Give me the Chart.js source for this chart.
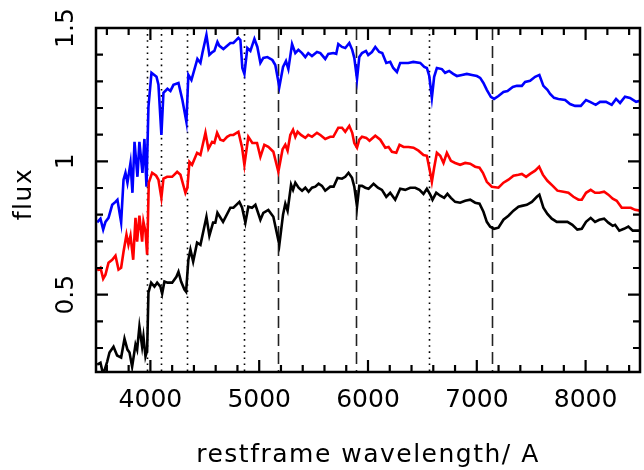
<!DOCTYPE html>
<html>
<head>
<meta charset="utf-8">
<script src="https://cdn.jsdelivr.net/npm/chart.js@4"></script>
<style>
  body { margin: 0; background: #fff; }
  #wrap { width: 644px; height: 470px; }
</style>
</head>
<body>
<div id="wrap"><canvas id="spec" width="644" height="470"></canvas></div>
<script>
// spectra (restframe wavelength in A, flux)
const blueWave = [3511,3541,3566,3587,3615,3649,3679,3697,3731,3753,3771,3789,3817,3835,3854,3881,3899,3927,3945,3964,3982,4010,4056,4074,4101,4120,4157,4184,4212,4258,4294,4331,4349,4377,4432,4460,4478,4515,4542,4570,4588,4616,4634,4671,4735,4763,4809,4827,4845,4864,4891,4919,4956,4983,5011,5038,5075,5121,5148,5185,5219,5246,5268,5302,5332,5360,5394,5424,5451,5485,5531,5562,5607,5635,5681,5708,5727,5761,5791,5828,5855,5874,5899,5920,5945,5981,6002,6036,6067,6103,6131,6168,6204,6232,6266,6296,6342,6370,6416,6480,6517,6541,6563,6587,6608,6633,6679,6709,6746,6783,6817,6863,6909,6955,7001,7031,7061,7092,7129,7159,7199,7245,7282,7331,7368,7414,7444,7490,7536,7575,7612,7649,7674,7710,7750,7812,7857,7903,7956,8004,8041,8093,8133,8188,8240,8280,8317,8362,8408,8464,8500];
const blueFlux = [0.771,0.785,0.744,0.773,0.788,0.837,0.848,0.856,0.771,0.931,0.957,0.920,0.994,0.882,1.073,0.942,1.073,0.957,1.084,0.905,1.204,1.332,1.317,1.287,1.099,1.257,1.272,1.264,1.287,1.294,1.230,1.148,1.324,1.305,1.384,1.369,1.406,1.474,1.399,1.410,1.414,1.448,1.433,1.421,1.444,1.444,1.463,1.455,1.350,1.328,1.425,1.414,1.459,1.429,1.369,1.388,1.391,1.380,1.361,1.279,1.354,1.376,1.346,1.440,1.406,1.418,1.406,1.391,1.406,1.395,1.410,1.406,1.384,1.403,1.406,1.403,1.440,1.429,1.425,1.444,1.418,1.388,1.309,1.391,1.406,1.414,1.399,1.410,1.429,1.410,1.406,1.369,1.373,1.350,1.335,1.369,1.369,1.369,1.373,1.369,1.354,1.350,1.320,1.238,1.317,1.350,1.346,1.332,1.339,1.328,1.320,1.324,1.328,1.324,1.320,1.313,1.294,1.268,1.242,1.234,1.245,1.260,1.264,1.279,1.283,1.283,1.298,1.302,1.317,1.324,1.283,1.268,1.253,1.238,1.234,1.230,1.215,1.208,1.208,1.230,1.223,1.212,1.223,1.223,1.212,1.234,1.219,1.242,1.238,1.223,1.227];

const redWave = [3511,3541,3566,3587,3615,3649,3679,3707,3731,3753,3780,3798,3817,3842,3863,3878,3899,3924,3936,3955,3970,3985,4016,4053,4074,4101,4120,4154,4200,4246,4276,4322,4340,4359,4383,4429,4460,4506,4533,4567,4588,4613,4643,4671,4705,4735,4763,4809,4843,4864,4900,4937,4980,5011,5047,5084,5130,5176,5215,5240,5261,5286,5311,5332,5353,5384,5424,5451,5485,5531,5562,5607,5653,5681,5727,5761,5791,5828,5855,5874,5899,5920,5945,5984,6014,6067,6113,6159,6189,6220,6260,6290,6327,6372,6418,6464,6510,6541,6572,6587,6608,6633,6664,6694,6725,6762,6801,6847,6893,6939,6985,7025,7056,7092,7138,7199,7245,7291,7337,7383,7414,7453,7490,7536,7573,7607,7649,7698,7741,7796,7842,7888,7934,7965,8004,8047,8087,8126,8170,8209,8249,8286,8332,8371,8415,8454,8500];
const redFlux = [0.591,0.601,0.560,0.575,0.620,0.631,0.646,0.594,0.601,0.661,0.725,0.687,0.721,0.631,0.788,0.699,0.796,0.699,0.773,0.736,0.650,0.920,0.957,0.946,0.931,0.863,0.935,0.942,0.942,0.961,0.950,0.882,0.901,0.998,0.987,1.032,1.024,1.107,1.047,1.073,1.069,1.107,1.081,1.077,1.092,1.099,1.099,1.111,1.051,0.987,1.092,1.069,1.069,1.017,1.062,1.054,1.036,0.961,1.045,1.062,1.040,1.099,1.118,1.092,1.111,1.099,1.088,1.099,1.092,1.107,1.099,1.084,1.092,1.092,1.126,1.126,1.111,1.133,1.107,1.069,1.051,1.081,1.092,1.088,1.077,1.096,1.081,1.051,1.054,1.036,1.032,1.062,1.054,1.054,1.051,1.040,1.024,1.021,0.957,0.923,0.976,1.032,1.021,0.994,1.032,1.002,0.994,0.987,0.994,0.991,0.980,0.976,0.957,0.923,0.905,0.901,0.920,0.931,0.946,0.950,0.953,0.942,0.953,0.965,0.980,0.950,0.927,0.908,0.890,0.886,0.882,0.867,0.856,0.856,0.882,0.893,0.882,0.882,0.886,0.875,0.860,0.852,0.826,0.826,0.826,0.818,0.815];

const blackWave = [3511,3541,3566,3603,3624,3661,3694,3731,3762,3789,3808,3832,3863,3878,3899,3924,3936,3955,3970,3982,4007,4037,4062,4092,4108,4129,4157,4200,4239,4258,4282,4313,4328,4349,4368,4393,4429,4460,4515,4542,4576,4597,4616,4668,4735,4763,4818,4843,4873,4900,4934,4965,5011,5038,5084,5130,5185,5219,5240,5261,5293,5311,5332,5362,5394,5424,5454,5485,5516,5546,5577,5607,5653,5684,5720,5761,5791,5821,5853,5874,5899,5920,5945,5975,6005,6051,6091,6128,6168,6204,6250,6296,6342,6388,6434,6473,6510,6541,6572,6593,6627,6664,6700,6730,6762,6801,6847,6893,6939,6985,7025,7061,7092,7123,7159,7199,7245,7291,7337,7383,7414,7460,7506,7552,7575,7612,7649,7689,7735,7781,7833,7878,7924,7965,8004,8047,8087,8126,8170,8209,8249,8271,8310,8353,8393,8433,8500];
const blackFlux = [0.238,0.245,0.200,0.249,0.283,0.305,0.272,0.264,0.335,0.294,0.283,0.230,0.313,0.294,0.380,0.305,0.343,0.268,0.290,0.508,0.545,0.530,0.545,0.530,0.504,0.549,0.545,0.545,0.567,0.586,0.549,0.519,0.511,0.631,0.669,0.624,0.695,0.687,0.792,0.721,0.770,0.770,0.807,0.773,0.826,0.826,0.848,0.826,0.770,0.830,0.826,0.837,0.781,0.807,0.818,0.792,0.687,0.800,0.841,0.815,0.912,0.893,0.920,0.901,0.890,0.901,0.886,0.901,0.905,0.916,0.908,0.890,0.905,0.905,0.938,0.935,0.942,0.957,0.938,0.905,0.830,0.908,0.908,0.901,0.897,0.916,0.901,0.893,0.867,0.882,0.856,0.897,0.893,0.901,0.901,0.893,0.878,0.897,0.875,0.856,0.882,0.871,0.863,0.878,0.863,0.848,0.845,0.852,0.856,0.845,0.841,0.811,0.773,0.755,0.747,0.751,0.781,0.796,0.815,0.830,0.833,0.837,0.848,0.867,0.875,0.826,0.803,0.785,0.773,0.773,0.773,0.762,0.744,0.747,0.773,0.788,0.773,0.781,0.785,0.770,0.758,0.762,0.740,0.747,0.755,0.740,0.740];

// marker lines (A)
const dottedLines = [3968, 4102, 4340, 4861, 6563];
const dashedLines = [5175, 5893, 7140];

// axes
const xMin = 3500, xMax = 8500;
const yMin = 0.21, yMax = 1.5;
const xTickLabels = [4000, 5000, 6000, 7000, 8000];
const yTickLabels = ["0.5", "1", "1.5"];

const FONT = "DejaVu Sans";

function toPoints(w, f) {
  return w.map((x, i) => ({ x: x, y: f[i] }));
}

const axesPlugin = {
  id: "axesPlugin",
  beforeDatasetsDraw(chart) {
    const { ctx, chartArea: a, scales: { x } } = chart;
    ctx.save();
    ctx.strokeStyle = "#000";
    ctx.lineWidth = 1.6;
    ctx.setLineDash([1.6, 4.5]);
    dottedLines.forEach(w => {
      const px = Math.round(x.getPixelForValue(w)) + 0.5;
      ctx.beginPath(); ctx.moveTo(px, a.top); ctx.lineTo(px, a.bottom); ctx.stroke();
    });
    ctx.strokeStyle = "#222";
    ctx.setLineDash([12, 6]);
    dashedLines.forEach(w => {
      const px = Math.round(x.getPixelForValue(w)) + 0.5;
      ctx.beginPath(); ctx.moveTo(px, a.top); ctx.lineTo(px, a.bottom); ctx.stroke();
    });
    ctx.restore();
  },
  afterDraw(chart) {
    const { ctx, chartArea: a, scales: { x, y } } = chart;
    ctx.save();
    ctx.strokeStyle = "#000";
    ctx.lineWidth = 2.5;
    ctx.strokeRect(a.left, a.top, a.right - a.left, a.bottom - a.top);

    // inward ticks on all four sides
    ctx.lineWidth = 2.2;
    for (let v = 3600; v <= 8400; v += 200) {
      const px = x.getPixelForValue(v);
      const len = v % 1000 === 0 ? 12 : 7;
      ctx.beginPath();
      ctx.moveTo(px, a.bottom); ctx.lineTo(px, a.bottom - len);
      ctx.moveTo(px, a.top); ctx.lineTo(px, a.top + len);
      ctx.stroke();
    }
    for (let k = 3; k <= 14; k++) {
      const py = y.getPixelForValue(k / 10);
      const len = k % 5 === 0 ? 12 : 7;
      ctx.beginPath();
      ctx.moveTo(a.left, py); ctx.lineTo(a.left + len, py);
      ctx.moveTo(a.right, py); ctx.lineTo(a.right - len, py);
      ctx.stroke();
    }

    ctx.fillStyle = "#000";
    ctx.font = "25px '" + FONT + "'";
    ctx.textAlign = "center";
    ctx.textBaseline = "middle";
    xTickLabels.forEach(v => {
      ctx.fillText(String(v), x.getPixelForValue(v), a.bottom + 28);
    });
    yTickLabels.forEach(t => {
      ctx.save();
      ctx.translate(a.left - 30, y.getPixelForValue(parseFloat(t)));
      ctx.rotate(-Math.PI / 2);
      ctx.fillText(t, 0, 0);
      ctx.restore();
    });

    ctx.font = "25px '" + FONT + "'";
    ctx.letterSpacing = "1.5px";
    ctx.fillText("restframe wavelength/ A", (a.left + a.right) / 2, 455);
    ctx.save();
    ctx.translate(24, 194);
    ctx.rotate(-Math.PI / 2);
    ctx.fillText("flux", 0, 0);
    ctx.restore();
    ctx.restore();
  }
};

const line = (data, color) => ({
  data: data,
  borderColor: color,
  borderWidth: 2.6,
  pointRadius: 0,
  showLine: true,
  tension: 0,
  fill: false
});

new Chart(document.getElementById("spec"), {
  type: "scatter",
  data: {
    datasets: [
      line(toPoints(blackWave, blackFlux), "#000000"),
      line(toPoints(redWave, redFlux), "#ff0000"),
      line(toPoints(blueWave, blueFlux), "#0000ff")
    ]
  },
  options: {
    responsive: false,
    animation: false,
    layout: { padding: { left: 96, right: 4, top: 28, bottom: 98 } },
    plugins: { legend: { display: false }, tooltip: { enabled: false } },
    scales: {
      x: { type: "linear", min: xMin, max: xMax, display: false },
      y: { type: "linear", min: yMin, max: yMax, display: false }
    }
  },
  plugins: [axesPlugin]
});
</script>
</body>
</html>
